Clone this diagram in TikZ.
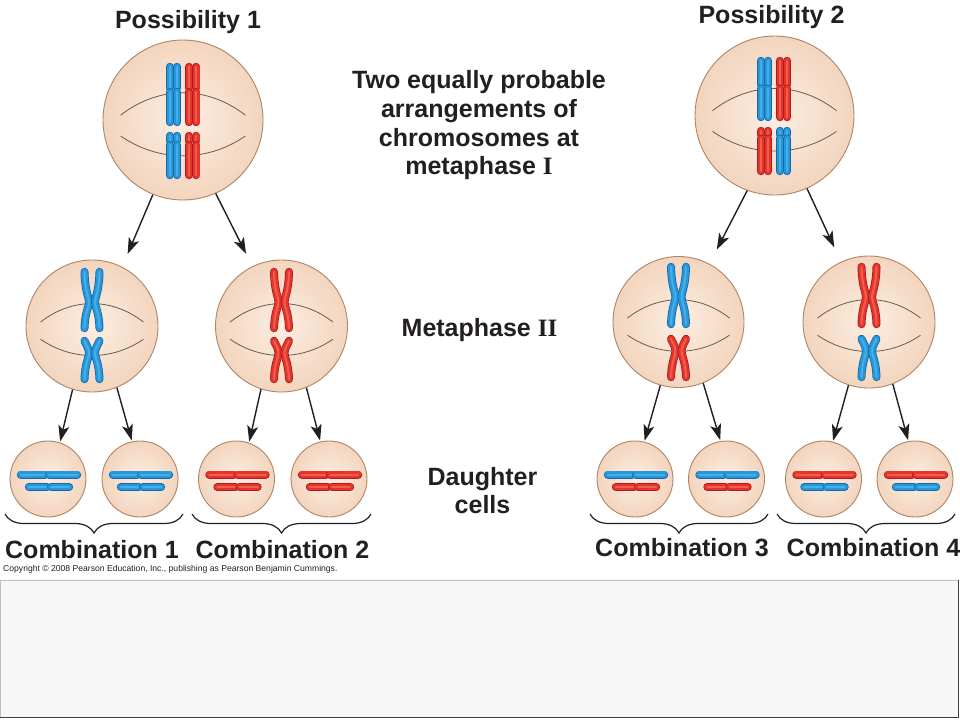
\documentclass[tikz,border=0pt]{standalone}
\usepackage{fontspec}
\setmainfont{Liberation Sans}
\newfontfamily\romanfont{Liberation Serif}
\usetikzlibrary{arrows.meta,decorations.pathreplacing,calc}
\definecolor{txt}{HTML}{231F20}
\definecolor{cellin}{HTML}{FCEEE2}
\definecolor{cellout}{HTML}{F3D5BE}
\definecolor{cellborder}{HTML}{B08466}
\definecolor{spindlecol}{HTML}{6E5A4C}
\definecolor{bd}{HTML}{1A65A6}
\definecolor{bm}{HTML}{2598DA}
\definecolor{bl}{HTML}{6BC6F2}
\definecolor{rd}{HTML}{AE1A1E}
\definecolor{rm}{HTML}{E5342B}
\definecolor{rl}{HTML}{F78A70}
\tikzset{
  cellnode/.style={circle, draw=cellborder, line width=0.9pt, shading=radial,
    inner color=cellin, outer color=cellout, inner sep=0pt},
  spindle/.style={draw=spindlecol, line width=0.8pt},
  arr/.style={-{Stealth[length=16pt,width=11pt,inset=4pt]}, line width=1.4pt, draw=txt, fill=txt},
  lbl/.style={font=\bfseries\fontsize{25}{30}\selectfont, text=txt, anchor=base, inner sep=0pt},
  brc/.style={decorate, decoration={brace, amplitude=19pt, mirror}, line width=1.2pt, draw=txt}
}
% one chromatid segment: #1 colour prefix, #2 path
\newcommand\chrm[2]{%
  \draw[#1d, line width=8pt, line cap=round, line join=round] #2;
  \draw[#1m, line width=6.4pt, line cap=round, line join=round] #2;
  \draw[#1l, line width=2pt, line cap=round, line join=round, opacity=0.5] #2;}
% metaphase I homolog (two sister chromatids side by side)
% #1 colour, #2 x, #3 top, #4 centromere, #5 bottom
\newcommand\mpair[5]{%
  \foreach \dx in {-3.7,3.7} {%
    \chrm{#1}{(#2+\dx,#3+3.8)--(#2+\dx,#4-2)}%
    \chrm{#1}{(#2+\dx,#4+2)--(#2+\dx,#5-3.8)}%
  }}
% X-shaped chromosome: #1 colour, #2 top, #3 centromere, #4 bottom
\newcommand\xchrom[4]{%
  \chrm{#1}{(-7.5,#2+3.8) .. controls (-7,#3-10) and (-3,#3-5) .. (-3,#3) .. controls (-3,#3+5) and (-7,#3+10) .. (-7.5,#4-3.8)}%
  \chrm{#1}{(7.5,#2+3.8) .. controls (7,#3-10) and (3,#3-5) .. (3,#3) .. controls (3,#3+5) and (7,#3+10) .. (7.5,#4-3.8)}}
% horizontal chromosome: #1 colour, #2 left, #3 centromere, #4 right, #5 y
\newcommand\hchrom[5]{%
  \chrm{#1}{(#2+3.8,#5)--(#3-2,#5)}%
  \chrm{#1}{(#3+2,#5)--(#4-3.8,#5)}}
% spindle arcs, #1 radius
\newcommand\spind[1]{%
  \draw[spindle] (-0.78*#1,-0.06*#1) .. controls (-0.3*#1,-0.433*#1) and (0.3*#1,-0.433*#1) .. (0.78*#1,-0.06*#1);
  \draw[spindle] (-0.78*#1,0.2*#1) .. controls (-0.3*#1,0.53*#1) and (0.3*#1,0.53*#1) .. (0.78*#1,0.2*#1);}
\begin{document}
\begin{tikzpicture}[x=1pt,y=-1pt]
\useasboundingbox (0,0) rectangle (960,720);
\fill[white] (0,0) rectangle (960,720);
% bottom panel
\fill[black!3] (0,580) rectangle (959,718);
\draw[black!25, line width=0.5pt] (0.5,718) -- (0.5,580.3) -- (958,580.3);
\draw[black!75, line width=1.5pt] (0,717.3) -- (958.3,717.3) -- (958.3,580);

% ---------- Metaphase I cells ----------
\begin{scope}[shift={(183,120)}]
  \node[cellnode, minimum size=160pt] (p1) at (0,0) {};
  \spind{80}
  \mpair{b}{-9.6}{-57}{-30}{6}
  \mpair{r}{9.6}{-57}{-30}{6}
  \mpair{b}{-9.6}{12}{23}{59}
  \mpair{r}{9.6}{12}{23}{59}
\end{scope}
\begin{scope}[shift={(774.5,115.5)}]
  \node[cellnode, minimum size=159pt] (p2) at (0,0) {};
  \spind{79.5}
  \mpair{b}{-10}{-58.5}{-29}{5.5}
  \mpair{r}{9}{-58.5}{-29}{5.5}
  \mpair{r}{-10}{11.5}{21}{59.5}
  \mpair{b}{9}{11.5}{21}{59.5}
\end{scope}

% ---------- Metaphase II cells ----------
\begin{scope}[shift={(92,326)}]
  \node[cellnode, minimum size=132pt] (m1) at (0,0) {};
  \spind{66}
  \xchrom{b}{-58}{-24}{6}
  \xchrom{b}{11}{27}{57}
\end{scope}
\begin{scope}[shift={(281.5,326)}]
  \node[cellnode, minimum size=132pt] (m2) at (0,0) {};
  \spind{66}
  \xchrom{r}{-58}{-24}{6}
  \xchrom{r}{11}{27}{57}
\end{scope}
\begin{scope}[shift={(678.5,322)}]
  \node[cellnode, minimum size=131pt] (m3) at (0,0) {};
  \spind{65.5}
  \xchrom{b}{-59}{-25}{6}
  \xchrom{r}{13}{29}{59}
\end{scope}
\begin{scope}[shift={(869,322)}]
  \node[cellnode, minimum size=132pt] (m4) at (0,0) {};
  \spind{66}
  \xchrom{r}{-59}{-25}{6}
  \xchrom{b}{13}{29}{59}
\end{scope}

% ---------- Daughter cells ----------
\foreach \nm/\cx/\ca/\cb in {d1/48/b/b, d2/140/b/b, d3/236.5/r/r, d4/329/r/r,
                             d5/635/b/r, d6/726.5/b/r, d7/823.5/r/b, d8/915/r/b} {
  \begin{scope}[shift={(\cx,479)}]
    \node[cellnode, minimum size=76pt] (\nm) at (0,0) {};
    \hchrom{\ca}{-31}{-1}{33}{-4.5}
    \hchrom{\cb}{-23}{1}{25}{8}
  \end{scope}
}

% ---------- Arrows ----------
\draw[arr, shorten >=14pt] (p1.-112) -- (m1.63);
\draw[arr, shorten >=14pt] (p1.-66) -- (m2.116);
\draw[arr, shorten >=16pt] (p2.-110) -- (m3.62);
\draw[arr, shorten >=16pt] (p2.-66) -- (m4.115);
\draw[arr, shorten >=1pt] (m1.-107) -- (d1.72);
\draw[arr, shorten >=1pt] (m1.-68) -- (d2.102);
\draw[arr, shorten >=1pt] (m2.-108) -- (d3.71);
\draw[arr, shorten >=1pt] (m2.-68) -- (d4.103);
\draw[arr, shorten >=1pt] (m3.-106) -- (d5.76);
\draw[arr, shorten >=1pt] (m3.-68) -- (d6.99);
\draw[arr, shorten >=1pt] (m4.-108) -- (d7.76);
\draw[arr, shorten >=1pt] (m4.-69) -- (d8.100);

% ---------- Braces ----------
\coordinate (b1a) at (5,514);   \coordinate (b1b) at (183,514);
\coordinate (b2a) at (192,514); \coordinate (b2b) at (371,514);
\coordinate (b3a) at (590,514); \coordinate (b3b) at (768,514);
\coordinate (b4a) at (777,514); \coordinate (b4b) at (955,514);
\draw[brc] (b1a) -- (b1b);
\draw[brc] (b2a) -- (b2b);
\draw[brc] (b3a) -- (b3b);
\draw[brc] (b4a) -- (b4b);

% ---------- Labels ----------
\node[lbl] (pos1) at (188,28) {Possibility 1};
\node[lbl] (pos2) at (771.5,23) {Possibility 2};
\node[lbl] (t1) at (479,88) {Two equally probable};
\node[lbl] (t2) at (479,117) {arrangements of};
\node[lbl] (t3) at (479,146) {chromosomes at};
\node[lbl] (t4) at (479,174) {metaphase {\romanfont\bfseries I}};
\node[lbl] (t5) at (479.5,336) {Metaphase {\romanfont\bfseries II}};
\node[lbl] (t6) at (482.5,485) {Daughter};
\node[lbl] (t7) at (482.5,513) {cells};
\node[lbl] (c1) at (92,558) {Combination 1};
\node[lbl] (c2) at (282.5,558) {Combination 2};
\node[lbl] (c3) at (682,556) {Combination 3};
\node[lbl] (c4) at (873.5,556) {Combination 4};
\node[anchor=base west, inner sep=0pt, text=txt, font=\fontsize{8.6}{10}\selectfont] (copy) at (3,571)
  {Copyright © 2008 Pearson Education, Inc., publishing as Pearson Benjamin Cummings.};
\end{tikzpicture}
\end{document}
